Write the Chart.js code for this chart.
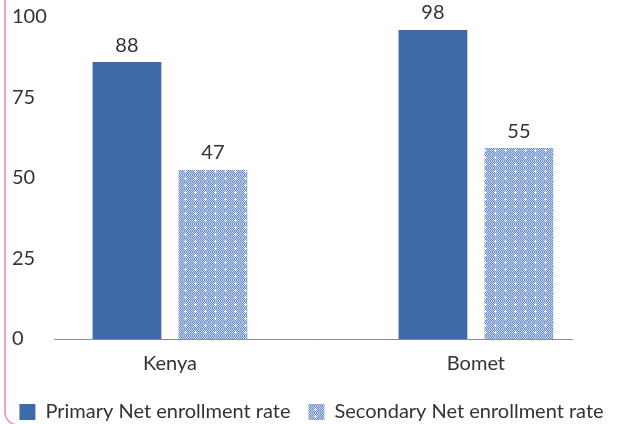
<!DOCTYPE html>
<html>
    <head>
        <script src="https://cdn.jsdelivr.net/npm/chart.js@4.4.0/dist/chart.umd.min.js"></script>
        <style>
            html, body { margin: 0; padding: 0; background: #fff; overflow: hidden; }
            #wrap { position: relative; width: 623px; height: 424px; }
            #frame {
                position: absolute; left: 4px; top: -20px; width: 700px; height: 446px;
                border: 2px solid #F2A3D4; border-radius: 14px; box-sizing: border-box;
            }
        </style>
    </head>
    <body>
        <div id="wrap">
            <div id="frame"></div>
            <canvas id="myChart" width="623" height="424"></canvas>
        </div>

        <script>
            // DATA
            const categories = ['Kenya', 'Bomet'];
            const seriesNames = ['Primary Net enrollment rate', 'Secondary Net enrollment rate'];
            // bar heights as drawn in the picture
            const primaryValues = [86, 96];
            const secondaryValues = [52.5, 59.3];
            // value labels as printed above the bars
            const primaryLabels = ['88', '98'];
            const secondaryLabels = ['47', '55'];
            const yTicks = [0, 25, 50, 75, 100];

            const FONT = 'Lato, "Open Sans", sans-serif';
            const FSIZE = 20;
            const TEXT = '#333333';

            // dotted fill for the secondary bars: checker with small white crosses
            function makePattern() {
                const w = 10, h = 7;
                const c = document.createElement('canvas');
                c.width = w; c.height = h;
                const g = c.getContext('2d');
                for (let y = 0; y < h; y++) {
                    for (let x = 0; x < w; x++) {
                        g.fillStyle = (x + y) % 2 ? '#C2D0EA' : '#6D8FC8';
                        g.fillRect(x, y, 1, 1);
                    }
                }
                g.fillStyle = '#ffffff';
                [[5,2],[4,3],[5,3],[6,3],[5,4]].forEach(p => g.fillRect(p[0], p[1], 1, 1));
                return g.createPattern(c, 'repeat');
            }

            const toPoints = vals => vals.map((v, i) => ({ x: i, y: v }));

            const data = {
                datasets: [{
                    label: seriesNames[0],
                    data: toPoints(primaryValues),
                    valueLabels: primaryLabels,
                    backgroundColor: '#3D6AA8'
                }, {
                    label: seriesNames[1],
                    data: toPoints(secondaryValues),
                    valueLabels: secondaryLabels,
                    backgroundColor: makePattern()
                }]
            };

            // value labels above bars
            const barLabels = {
                id: 'barLabels',
                afterDatasetsDraw(chart) {
                    const ctx = chart.ctx;
                    ctx.save();
                    ctx.font = FSIZE + 'px ' + FONT;
                    ctx.fillStyle = TEXT;
                    ctx.textAlign = 'center';
                    ctx.textBaseline = 'middle';
                    chart.data.datasets.forEach((ds, di) => {
                        chart.getDatasetMeta(di).data.forEach((bar, i) => {
                            ctx.fillText(ds.valueLabels[i], bar.x, bar.y - 17);
                        });
                    });
                    ctx.restore();
                }
            };

            // empty strips that only take up room
            const spacer = (pos, w, weight) => ({
                position: pos,
                weight: weight,
                afterFit: s => { s.width = w; },
                grid: { display: false },
                border: { display: false },
                ticks: { display: false }
            });

            const config = {
                type: 'bar',
                data,
                options: {
                    responsive: false,
                    animation: false,
                    layout: { padding: { top: 0, left: 0, right: 0, bottom: -8 } },
                    categoryPercentage: 0.562,
                    barPercentage: 0.8,
                    scales: {
                        x: {
                            type: 'linear',
                            offset: false,
                            min: -0.379,
                            max: 1.314,
                            afterBuildTicks: s => { s.ticks = categories.map((c, i) => ({ value: i })); },
                            afterFit: s => { s.paddingLeft = 0; s.paddingRight = 0; s.height += 3; },
                            grid: { display: false },
                            border: { display: true, color: '#8C8C8C', width: 1 },
                            ticks: {
                                padding: 5,
                                color: TEXT,
                                font: { family: FONT, size: FSIZE },
                                callback: v => categories[v]
                            }
                        },
                        y: {
                            min: 0,
                            max: 100,
                            weight: 0,
                            afterBuildTicks: s => { s.ticks = yTicks.map(v => ({ value: v })); },
                            afterFit: s => { s.width = 42; s.paddingTop = 17; },
                            grid: { display: false },
                            border: { display: false },
                            ticks: {
                                padding: 10,
                                crossAlign: 'far',
                                color: TEXT,
                                font: { family: FONT, size: FSIZE }
                            }
                        },
                        padLeft: spacer('left', 12, 1),
                        padRight: spacer('right', 51, 0)
                    },
                    plugins: {
                        tooltip: { enabled: false },
                        legend: {
                            position: 'bottom',
                            labels: {
                                boxWidth: 16,
                                boxHeight: 16,
                                padding: 18,
                                color: TEXT,
                                font: { family: FONT, size: FSIZE }
                            }
                        }
                    }
                },
                plugins: [barLabels]
            };

            // RENDER
            const myChart = new Chart(document.getElementById('myChart'), config);
        </script>
    </body>
</html>
